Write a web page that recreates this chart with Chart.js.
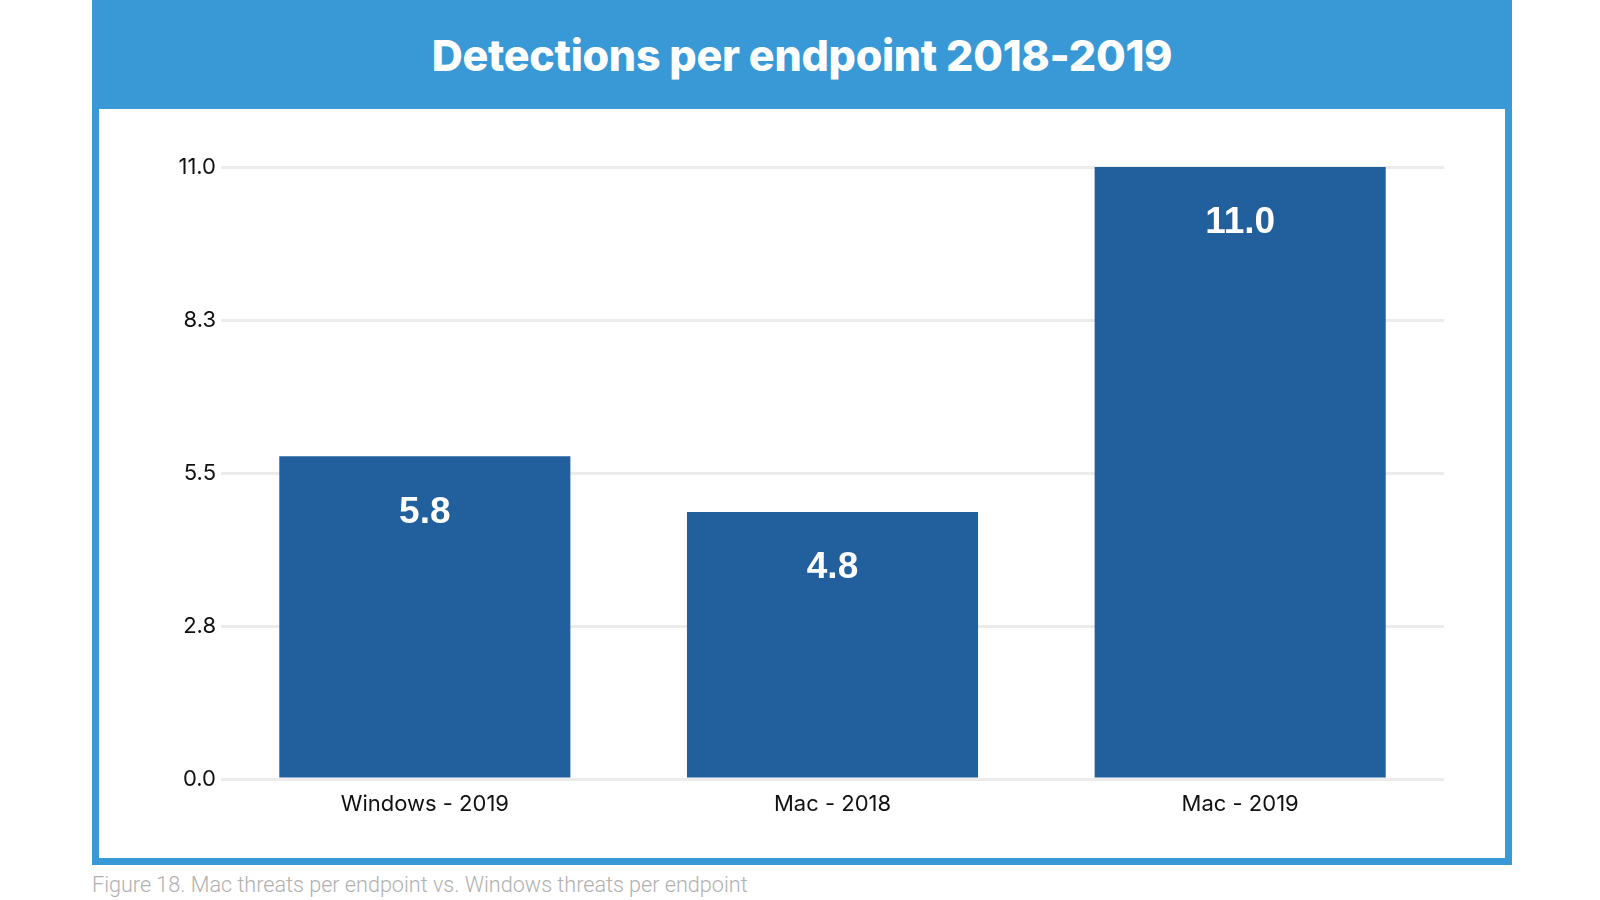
<!DOCTYPE html>
<html><head><meta charset="utf-8">
<script src="https://cdn.jsdelivr.net/npm/chart.js@4"></script>
<style>
html,body{margin:0;padding:0;background:#fff;width:1600px;height:900px;overflow:hidden;}
#frame{position:absolute;left:92px;top:0;width:1420px;height:865px;background:#3899d6;}
#title{position:absolute;left:0;top:0;width:1420px;height:109px;line-height:110px;text-align:center;color:#fff;font-family:Inter,"Noto Sans",sans-serif;font-weight:800;font-size:43px;letter-spacing:-0.3px;}
#panel{position:absolute;left:7px;top:109px;width:1406px;height:749px;background:#fff;}
#caption{position:absolute;left:92px;top:872px;color:#b0b0b0;font-family:Roboto,sans-serif;font-weight:300;font-size:21.6px;}
</style></head>
<body>
<div id="frame">
  <div id="title">Detections per endpoint 2018-2019</div>
  <div id="panel"><canvas id="c" width="1406" height="749"></canvas></div>
</div>
<div id="caption">Figure 18. Mac threats per endpoint vs. Windows threats per endpoint</div>
<script>
const categories = ["Windows - 2019", "Mac - 2018", "Mac - 2019"];
const values = [5.8, 4.8, 11.0];
const tickValues = [0, 2.75, 5.5, 8.25, 11];

const valueLabels = {
  id: 'valueLabels',
  afterDatasetsDraw(chart) {
    const ctx = chart.ctx;
    const meta = chart.getDatasetMeta(0);
    ctx.save();
    ctx.fillStyle = '#ffffff';
    ctx.font = 'bold 37px "Liberation Sans", Arial, sans-serif';
    ctx.textAlign = 'center';
    ctx.textBaseline = 'middle';
    meta.data.forEach((bar, i) => {
      ctx.fillText(values[i].toFixed(1), bar.x, bar.y + 56);
    });
    ctx.restore();
  }
};

new Chart(document.getElementById('c'), {
  type: 'bar',
  data: {
    labels: categories,
    datasets: [{
      data: values,
      backgroundColor: '#225f9d',
      borderWidth: 0,
      barPercentage: 0.714,
      categoryPercentage: 1.0
    }]
  },
  options: {
    responsive: false,
    animation: false,
    layout: { padding: { left: 0, right: 61, top: 58, bottom: 0 } },
    plugins: { legend: { display: false }, tooltip: { enabled: false } },
    scales: {
      y: {
        min: 0, max: 11,
        afterBuildTicks: (s) => { s.ticks = tickValues.map(v => ({ value: v })); },
        afterFit: (s) => { s.width = 122; },
        border: { display: false },
        grid: { color: '#ececec', lineWidth: 3, drawTicks: false },
        ticks: {
          padding: 5,
          color: '#111111',
          font: { family: 'Inter, "Noto Sans", sans-serif', size: 22 },
          callback: (v) => Number(v).toFixed(1)
        }
      },
      x: {
        afterFit: (s) => { s.height = 79; },
        border: { display: false },
        grid: { display: false, drawTicks: false },
        ticks: {
          padding: 12,
          color: '#111111',
          font: { family: 'Inter, "Noto Sans", sans-serif', size: 22 }
        }
      }
    }
  },
  plugins: [valueLabels]
});
</script>
</body></html>
